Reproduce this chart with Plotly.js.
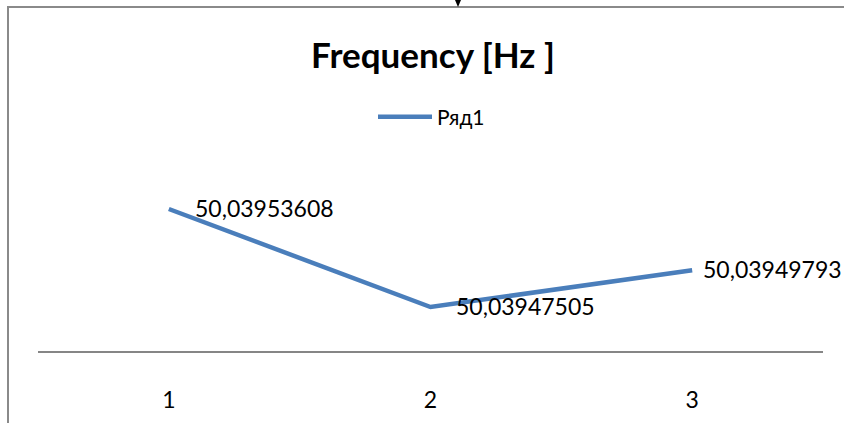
<!DOCTYPE html>
<html>
<head>
<meta charset="utf-8">
<script src="https://cdn.plot.ly/plotly-3.0.1.min.js"></script>
<style>
  html, body { margin: 0; padding: 0; background: #fff; }
  #wrap { position: relative; width: 844px; height: 423px; overflow: hidden; }
  #chart { position: absolute; left: 0; top: 0; width: 844px; height: 423px; }
  #frame { position: absolute; left: 7px; top: 6px; width: 900px; height: 500px;
           border-left: 2px solid #8a8a8a; border-top: 2px solid #8a8a8a; pointer-events: none; }
  #mark { position: absolute; left: 455px; top: 0px; width: 0; height: 0;
          border-left: 3px solid transparent; border-right: 3px solid transparent;
          border-top: 7px solid #000; pointer-events: none; }
</style>
</head>
<body>
<div id="wrap">
  <div id="chart"></div>
  <div id="frame"></div>
  <div id="mark"></div>
</div>
<script>
const categories = [1, 2, 3];
const values = [50.03953608, 50.03947505, 50.03949793];
const labels = ["50,03953608", "50,03947505", "50,03949793"];
const seriesName = "Ряд1";
const chartTitle = "Frequency [Hz ]";

const labelShift = [24, 23, 9];

const FONT = "Lato, 'Noto Sans', 'Open Sans', sans-serif";
const FS = 23;

const trace = {
  x: categories,
  y: values,
  type: "scatter",
  mode: "lines",
  name: seriesName,
  line: { color: "#4a7ebb", width: 4.5 },
  hoverinfo: "skip"
};

const annotations = categories.map((c, i) => ({
  x: c, y: values[i], xref: "x", yref: "y",
  text: labels[i], showarrow: false,
  xanchor: "left", yanchor: "middle",
  xshift: labelShift[i], yshift: 1,
  font: { family: FONT, size: FS, color: "#000" }
}));

const layout = {
  width: 844, height: 423,
  paper_bgcolor: "rgba(0,0,0,0)",
  plot_bgcolor: "rgba(0,0,0,0)",
  margin: { l: 38, r: 21, t: 150, b: 72, pad: 0 },
  title: {
    text: "<b>" + chartTitle + "</b>",
    font: { family: FONT, size: 35, color: "#000" },
    x: 433 / 844, xanchor: "center",
    y: 1 - 56 / 423, yanchor: "middle",
    xref: "container", yref: "container"
  },
  showlegend: true,
  legend: {
    orientation: "h",
    x: (378 - 38 - 5) / 785, xanchor: "left",
    y: 1.164, yanchor: "middle",
    itemwidth: 54,
    font: { family: FONT, size: 21, color: "#000" },
    bgcolor: "rgba(0,0,0,0)"
  },
  xaxis: {
    type: "linear",
    range: [0.5, 3.5],
    tickvals: categories,
    ticktext: categories.map(String),
    showline: true, linecolor: "#868686", linewidth: 2,
    ticks: "", showgrid: false, zeroline: false,
    tickfont: { family: FONT, size: FS, color: "#000" },
    ticklabelstandoff: 27,
    fixedrange: true
  },
  yaxis: {
    range: [50.03944765, 50.03957281],
    showticklabels: false, showline: false, showgrid: false,
    zeroline: false, ticks: "", fixedrange: true
  },
  annotations: annotations
};

Plotly.newPlot("chart", [trace], layout, { staticPlot: true, displayModeBar: false });
</script>
</body>
</html>
